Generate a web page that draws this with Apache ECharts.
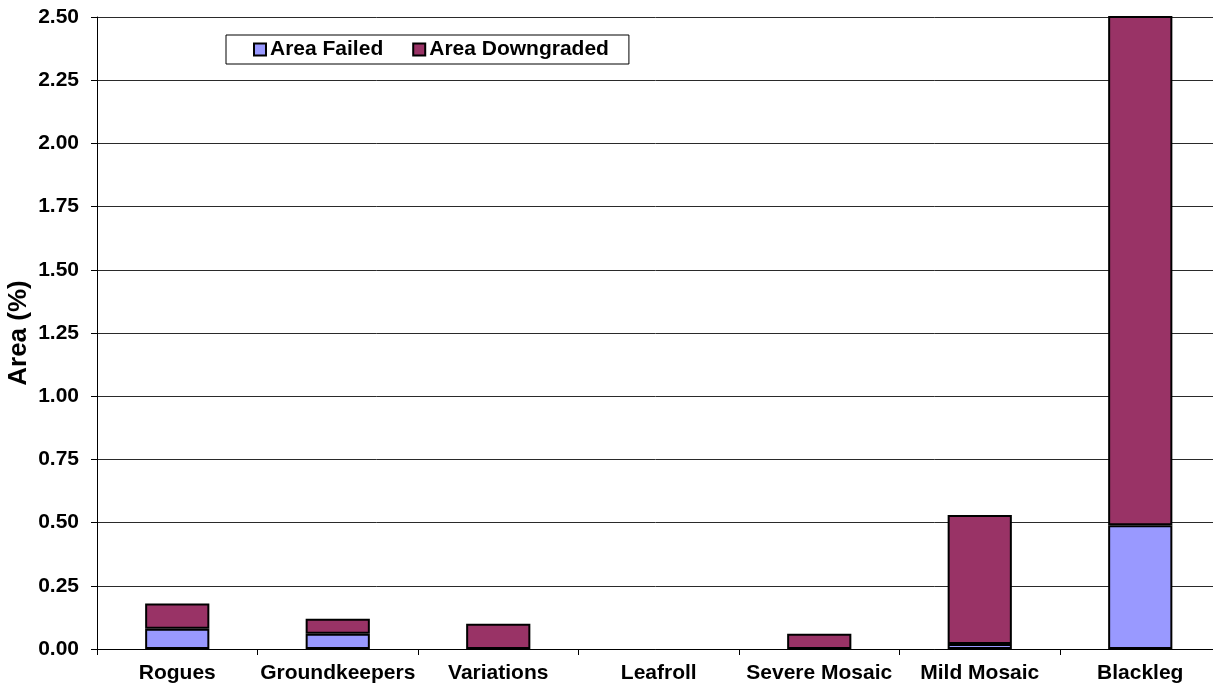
<!DOCTYPE html>
<html>
<head>
<meta charset="utf-8">
<title>Area Failed / Downgraded by Cause</title>
<script src="https://cdn.jsdelivr.net/npm/echarts@6/dist/echarts.min.js"></script>
<style>
  html, body { margin: 0; padding: 0; background: #ffffff; }
  #chart { width: 1213px; height: 686px; }
</style>
</head>
<body>
<div id="chart"></div>
<script>
// Causes of area loss, in display order
const categories = ['Rogues', 'Groundkeepers', 'Variations', 'Leafroll', 'Severe Mosaic', 'Mild Mosaic', 'Blackleg'];
// Area (%) per cause
const areaFailed = [0.08, 0.06, 0, 0, 0, 0.02, 0.49];
const areaDowngraded = [0.10, 0.06, 0.10, 0, 0.06, 0.51, 2.20];
// Value axis scale
const yMin = 0;
const yMax = 2.5;
const yStep = 0.25;

const FONT = 'Liberation Sans, Arial, sans-serif';
const textStyle = { fontFamily: FONT, fontWeight: 'bold', fontSize: 21, color: '#000' };

// Empty segments are skipped so they leave no outline on the axis
const toBarData = arr => arr.map(v => (v === 0 ? '-' : v));

const chart = echarts.init(document.getElementById('chart'), null, { renderer: 'canvas' });

chart.setOption({
  animation: false,
  backgroundColor: '#ffffff',
  grid: {
    left: 97,
    right: -7.5,
    top: 17,
    bottom: 37,
    containLabel: false,
    outerBoundsMode: 'none'
  },
  legend: {
    left: 226,
    top: 35,
    orient: 'horizontal',
    backgroundColor: '#ffffff',
    borderColor: '#000',
    borderWidth: 1,
    borderRadius: 0,
    padding: [4, 20, 4, 27],
    itemWidth: 12,
    itemHeight: 12,
    itemGap: 29,
    icon: 'rect',
    textStyle: Object.assign({}, textStyle, { padding: [0, 0, 0, -1], lineHeight: 21 }),
    data: ['Area Failed', 'Area Downgraded']
  },
  xAxis: {
    type: 'category',
    data: categories,
    boundaryGap: true,
    axisLine: { show: true, lineStyle: { color: '#000', width: 1 } },
    axisTick: { show: true, length: 6, inside: false, alignWithLabel: false, lineStyle: { color: '#000' } },
    axisLabel: Object.assign({}, textStyle, { margin: 14, interval: 0 }),
    splitLine: { show: false }
  },
  yAxis: {
    type: 'value',
    min: yMin,
    max: yMax,
    interval: yStep,
    name: 'Area (%)',
    nameLocation: 'middle',
    nameRotate: 90,
    nameGap: 65,
    nameMoveOverlap: false,
    nameTextStyle: Object.assign({}, textStyle, { fontSize: 26 }),
    axisLine: { show: true, lineStyle: { color: '#000', width: 1 } },
    axisTick: { show: true, length: 6, inside: false, lineStyle: { color: '#000' } },
    axisLabel: Object.assign({}, textStyle, {
      margin: 18,
      formatter: v => v.toFixed(2)
    }),
    splitLine: { show: true, lineStyle: { color: '#2a2a2a', width: 1 } }
  },
  series: [
    {
      name: 'Area Failed',
      type: 'bar',
      stack: 'area',
      barWidth: '40%',
      data: toBarData(areaFailed),
      itemStyle: { color: '#9999FF', borderColor: '#000', borderWidth: 2 },
      clip: true
    },
    {
      name: 'Area Downgraded',
      type: 'bar',
      stack: 'area',
      barWidth: '40%',
      data: toBarData(areaDowngraded),
      itemStyle: { color: '#993366', borderColor: '#000', borderWidth: 2 },
      clip: true
    }
  ]
});
</script>
</body>
</html>
